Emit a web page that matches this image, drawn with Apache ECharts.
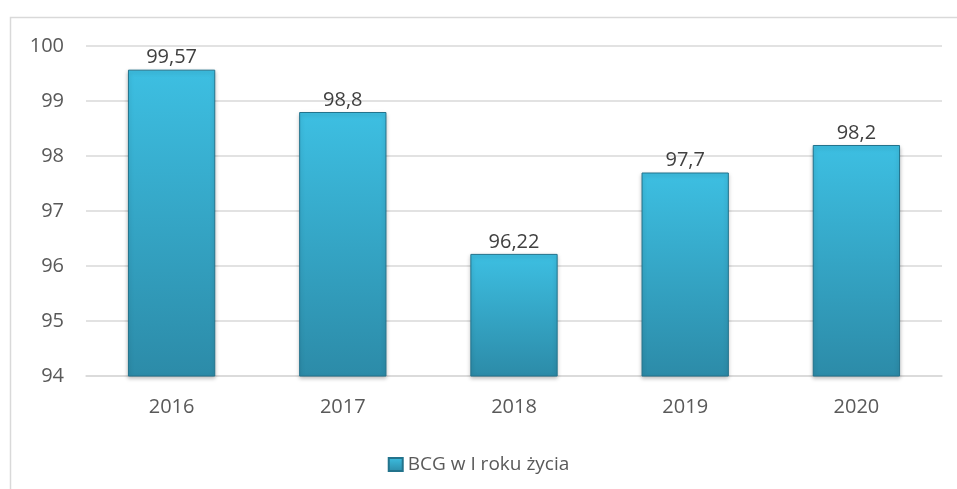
<!DOCTYPE html>
<html>
<head>
<meta charset="utf-8">
<script src="https://cdn.jsdelivr.net/npm/echarts@6/dist/echarts.min.js"></script>
<style>
html, body { margin: 0; padding: 0; background: #fff; }
#main { width: 957px; height: 489px; }
</style>
</head>
<body>
<div id="main"></div>
<script>
var years = ['2016', '2017', '2018', '2019', '2020'];
var values = [99.57, 98.8, 96.22, 97.7, 98.2];
var seriesName = 'BCG w I roku życia';

var myChart = echarts.init(document.getElementById('main'));
var font = 'Open Sans';

var barColor = new echarts.graphic.LinearGradient(0, 0, 0, 1, [
    { offset: 0, color: '#3dbfe2' },
    { offset: 1, color: '#2c8ba8' }
]);

var option = {
    animation: false,
    graphic: [{
        type: 'rect',
        shape: { x: 10.5, y: 17.5, width: 980, height: 500 },
        style: { fill: 'none', stroke: '#d9d9d9', lineWidth: 1.5 },
        silent: true
    }],
    grid: { left: 86, right: 15, top: 46, bottom: 113 },
    legend: {
        top: 450,
        left: 'center',
        itemWidth: 14,
        itemHeight: 13,
        itemGap: 3,
        icon: 'rect',
        textStyle: { color: '#595959', fontSize: 19, fontFamily: font },
        data: [seriesName]
    },
    xAxis: {
        type: 'category',
        data: years,
        axisLine: { lineStyle: { color: '#d9d9d9', width: 1.5 } },
        axisTick: { show: false },
        axisLabel: { color: '#595959', fontSize: 20, fontFamily: font, margin: 21 }
    },
    yAxis: {
        type: 'value',
        min: 94,
        max: 100,
        interval: 1,
        axisLine: { show: false },
        axisTick: { show: false },
        splitLine: { lineStyle: { color: '#d9d9d9', width: 1.5 } },
        axisLabel: { color: '#595959', fontSize: 20, fontFamily: font, margin: 22 }
    },
    series: [{
        name: seriesName,
        type: 'bar',
        data: values,
        barWidth: '51%',
        itemStyle: {
            color: barColor,
            borderColor: '#23738c',
            borderWidth: 1,
            shadowColor: 'rgba(0,0,0,0.25)',
            shadowBlur: 4,
            shadowOffsetY: 2
        },
        label: {
            show: true,
            position: 'top',
            distance: 2,
            color: '#404040',
            fontSize: 20,
            fontFamily: font,
            formatter: function (p) {
                return String(p.value).replace('.', ',');
            }
        }
    }]
};

myChart.setOption(option);
</script>
</body>
</html>
